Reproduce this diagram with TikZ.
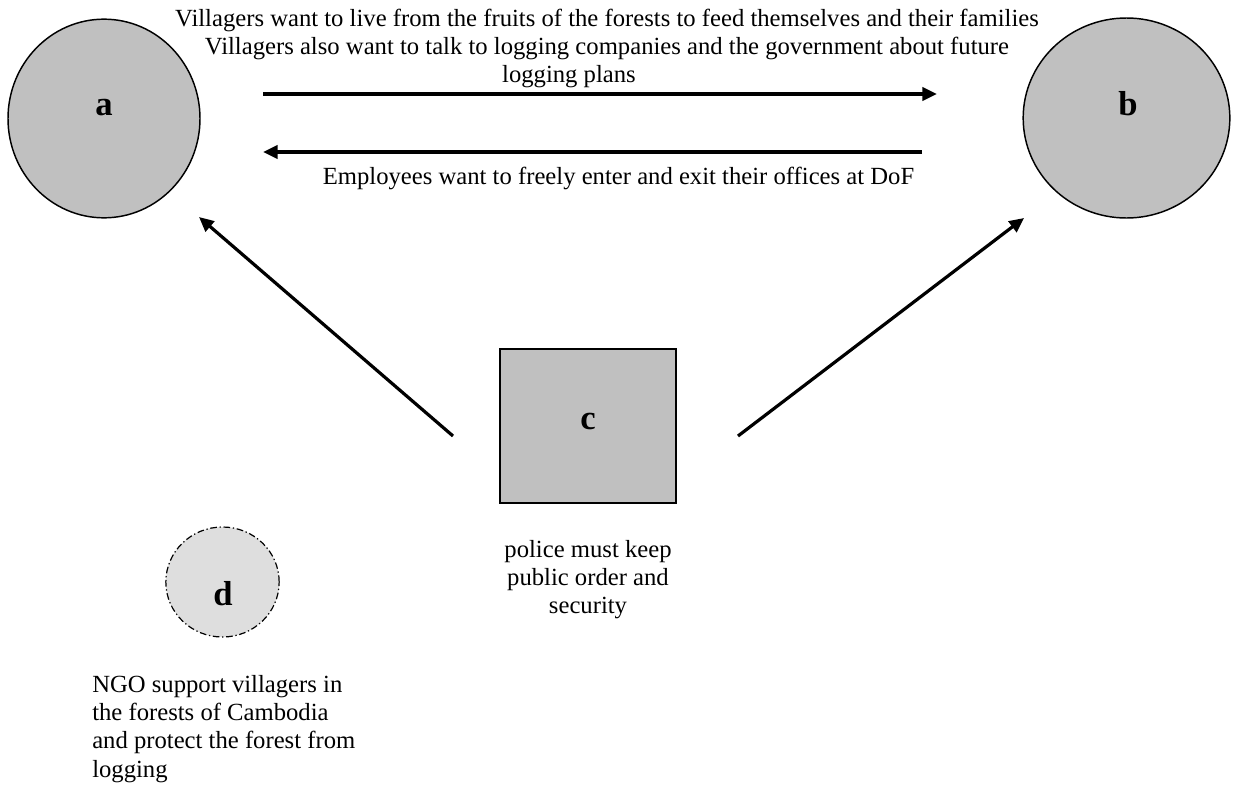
\documentclass[tikz,border=0pt]{standalone}
\usepackage{fontspec}
\setmainfont{Liberation Serif}
\usetikzlibrary{arrows.meta,shapes.geometric}
\definecolor{partygray}{HTML}{C0C0C0}
\definecolor{ngogray}{HTML}{DEDEDE}
\begin{document}
\begin{tikzpicture}[x=0.75pt,y=-0.75pt,
  party/.style={ellipse, draw=black, line width=1.1pt, fill=partygray, inner sep=0pt},
  policebox/.style={rectangle, draw=black, line width=1.1pt, fill=partygray, inner sep=0pt,
    minimum width=132pt, minimum height=115.5pt},
  ngo/.style={ellipse, draw=black, line width=0.9pt, fill=ngogray, inner sep=0pt,
    dash pattern=on 5pt off 2pt on 1pt off 2pt, minimum width=85pt, minimum height=82.5pt},
  lbl/.style={anchor=base, inner sep=0pt, font=\fontsize{26}{30}\selectfont\bfseries},
  txt/.style={inner sep=0pt, font=\fontsize{18.5}{21.2}\selectfont},
  conn/.style={line width=2.4pt, -{Triangle[length=11pt,width=10pt]}}
]
\useasboundingbox (0,0) rectangle (1234,785);
% actors
\node[party, minimum width=144pt, minimum height=149pt] (a) at (104,118.5) {};
\node[party, minimum width=155pt, minimum height=150pt] (b) at (1126.5,118) {};
\node[policebox] (c) at (588,426) {};
\node[ngo] (d) at (222.5,582) {};
\node[lbl] (alab) at (104,115) {a};
\node[lbl] (blab) at (1128,115) {b};
\node[lbl] (clab) at (588,429) {c};
\node[lbl] (dlab) at (223,605) {d};
% connector end points
\coordinate (ab1) at (263,94);
\coordinate (ab2) at (937,94);
\coordinate (ba1) at (922,152);
\coordinate (ba2) at (263,152);
\coordinate (ca1) at (453,436);
\coordinate (ca2) at (199,217);
\coordinate (cb1) at (738,436);
\coordinate (cb2) at (1024,218);
\draw[conn] (ab1) -- (ab2);
\draw[conn] (ba1) -- (ba2);
\draw[conn] (ca1) -- (ca2);
\draw[conn] (cb1) -- (cb2);
% texts
\node[txt, align=center, anchor=north] (toptext) at (607,8.7)
  {Villagers want to live from the fruits of the forests to feed themselves and their families\\
   Villagers also want to talk to logging companies and the government about future\\
   logging plans\hspace*{57pt}};
\node[txt, anchor=base] (emptext) at (618.5,184)
  {Employees want to freely enter and exit their offices at DoF};
\node[txt, align=center, anchor=north] (poltext) at (588,540)
  {police must keep\\public order and\\security};
\node[txt, align=left, anchor=north west] (ngotext) at (92,675)
  {NGO support villagers in\\the forests of Cambodia\\and protect the forest from\\logging};
\end{tikzpicture}
\end{document}
